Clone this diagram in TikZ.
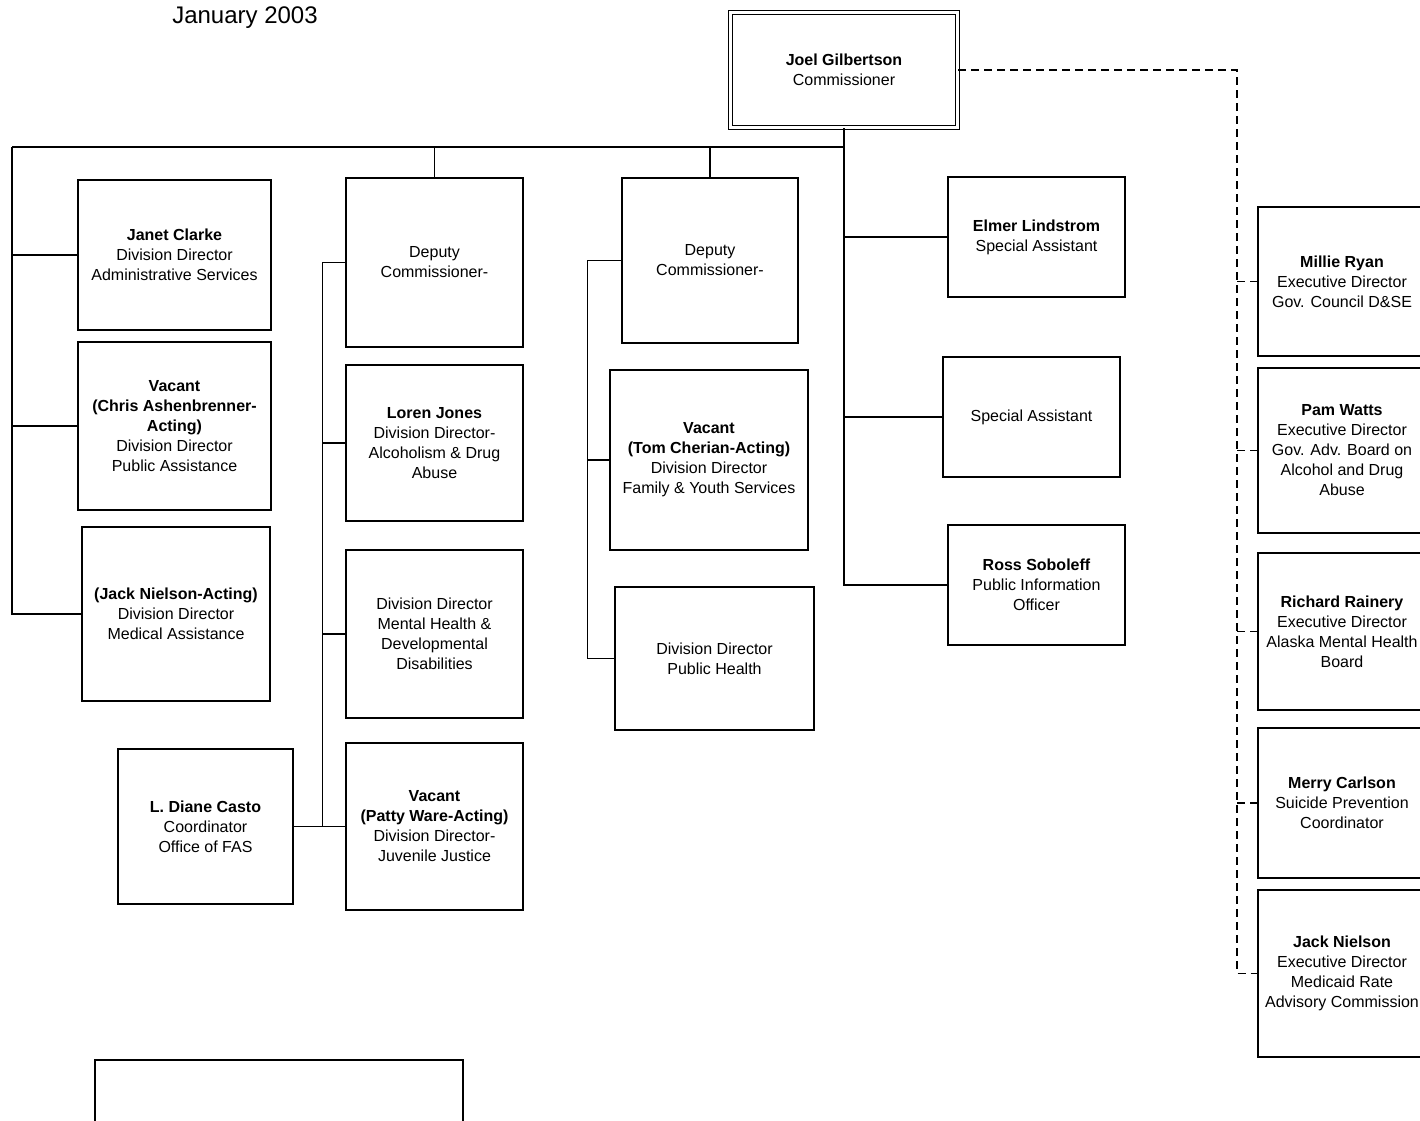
\documentclass[tikz,border=0pt]{standalone}
\usepackage{fontspec}
\setmainfont{Liberation Sans}
\usetikzlibrary{positioning}

\begin{document}
\begin{tikzpicture}[x=1pt,y=-1pt,
  box/.style={draw,line width=1.6pt,inner sep=2pt,align=center,font=\fontsize{16}{20}\selectfont},
  link/.style={line width=1.2pt},
  dlink/.style={line width=1.6pt,dash pattern=on 8pt off 5pt}]
\useasboundingbox (0,0) rectangle (1420,1120);
\clip (0,0) rectangle (1420,1120);
% titulo
\node[font=\fontsize{24}{28}\selectfont] (title) at (245,18) {January 2003};
% comissario
\node[box,double,double distance=2.5pt,line width=1.2pt,minimum width=227pt,minimum height=115pt] (com) at (844,70) {\textbf{Joel Gilbertson}\\Commissioner};
% coluna esquerda
\node[box,minimum width=193pt,minimum height=150pt] (janet) at (174.5,255) {\textbf{Janet Clarke}\\Division Director\\Administrative Services};
\node[box,minimum width=193pt,minimum height=168pt] (chris) at (174.5,426) {\textbf{Vacant}\\\textbf{(Chris Ashenbrenner-}\\\textbf{Acting)}\\Division Director\\Public Assistance};
\node[box,minimum width=188pt,minimum height=174pt] (jackna) at (176,614) {\textbf{(Jack Nielson-Acting)}\\Division Director\\Medical Assistance};
% vice 1
\node[box,minimum width=177pt,minimum height=169pt] (dep1) at (434.5,262.5) {Deputy\\Commissioner-};
\node[box,minimum width=177pt,minimum height=156pt] (loren) at (434.5,443) {\textbf{Loren Jones}\\Division Director-\\Alcoholism \& Drug\\Abuse};
\node[box,minimum width=177pt,minimum height=168pt] (mhdd) at (434.5,634) {Division Director\\Mental Health \&\\Developmental\\Disabilities};
\node[box,minimum width=177pt,minimum height=167pt] (patty) at (434.5,826.5) {\textbf{Vacant}\\\textbf{(Patty Ware-Acting)}\\Division Director-\\Juvenile Justice};
\node[box,minimum width=175pt,minimum height=155pt] (casto) at (205.5,826.5) {\textbf{L. Diane Casto}\\Coordinator\\Office of FAS};
% vice 2
\node[box,minimum width=176pt,minimum height=165pt] (dep2) at (710,260.5) {Deputy\\Commissioner-};
\node[box,minimum width=198pt,minimum height=180pt] (tom) at (709,460) {\textbf{Vacant}\\\textbf{(Tom Cherian-Acting)}\\Division Director\\Family \& Youth Services};
\node[box,minimum width=199pt,minimum height=143pt] (ph) at (714.5,658.5) {Division Director\\Public Health};
% assistentes
\node[box,minimum width=177pt,minimum height=120pt] (elmer) at (1036.5,237) {\textbf{Elmer Lindstrom}\\Special Assistant};
\node[box,minimum width=177pt,minimum height=120pt] (spec) at (1031.5,417) {Special Assistant};
\node[box,minimum width=177pt,minimum height=120pt] (ross) at (1036.5,585) {\textbf{Ross Soboleff}\\Public Information\\Officer};
% conselhos
\node[box,minimum width=168pt,minimum height=149pt] (millie) at (1342,281.5) {\textbf{Millie Ryan}\\Executive Director\\Gov. Council D\&SE};
\node[box,minimum width=168pt,minimum height=165pt] (pam) at (1342,450.5) {\textbf{Pam Watts}\\Executive Director\\Gov. Adv. Board on\\Alcohol and Drug\\Abuse};
\node[box,minimum width=168pt,minimum height=157pt] (rich) at (1342,631.5) {\textbf{Richard Rainery}\\Executive Director\\Alaska Mental Health\\Board};
\node[box,minimum width=168pt,minimum height=150pt] (merry) at (1342,803) {\textbf{Merry Carlson}\\Suicide Prevention\\Coordinator};
\node[box,minimum width=168pt,minimum height=167pt] (jackn) at (1342,973.5) {\textbf{Jack Nielson}\\Executive Director\\Medicaid Rate\\Advisory Commission};
% caixa de baixo
\node[box,minimum width=368pt,minimum height=100pt] (bottom) at (279,1110) {};
% ligacoes
\coordinate (lt) at (12,147);
\draw[link] (lt) -- (com.south |- lt);
\draw[link] (com.south) -- (com.south |- ross.west) -- (ross.west);
\draw[link] (com.south |- elmer.west) -- (elmer.west);
\draw[link] (com.south |- spec.west) -- (spec.west);
\draw[link] (lt) |- (jackna.west);
\draw[link] (lt |- janet.west) -- (janet.west);
\draw[link] (lt |- chris.west) -- (chris.west);
\draw[link] (dep1.north |- lt) -- (dep1.north);
\draw[link] (dep2.north |- lt) -- (dep2.north);
\coordinate[left=23pt of dep1.west] (d1t);
\draw[link] (dep1.west) -- (d1t) |- (patty.west);
\draw[link] (d1t |- loren.west) -- (loren.west);
\draw[link] (d1t |- mhdd.west) -- (mhdd.west);
\draw[link] (casto.east) -- (patty.west);
\coordinate[left=34pt of dep2.west] (d2t);
\draw[link] (dep2.west) -- (d2t) |- (ph.west);
\draw[link] (d2t |- tom.west) -- (tom.west);
% tracejado
\coordinate (rt) at (1237,70);
\draw[dlink] (com.east) -- (rt) |- (jackn.west);
\draw[dlink] (rt |- millie.west) -- (millie.west);
\draw[dlink] (rt |- pam.west) -- (pam.west);
\draw[dlink] (rt |- rich.west) -- (rich.west);
\draw[dlink] (rt |- merry.west) -- (merry.west);
\end{tikzpicture}
\end{document}
